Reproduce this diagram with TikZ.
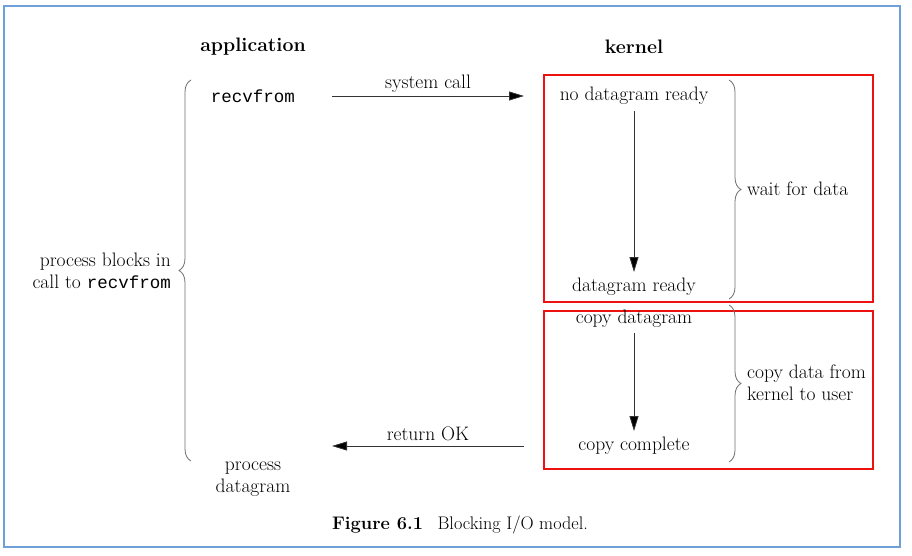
\documentclass[tikz,border=0pt]{standalone}
\usepackage{fontspec}
\setmonofont{Liberation Mono}
\usetikzlibrary{arrows.meta,decorations.pathreplacing}
\newcommand\txtsize{\fontsize{19.5}{22}\selectfont}
\newcommand\capsize{\fontsize{18.2}{22}\selectfont}
\newcommand\monosize{\fontsize{17.5}{22}\selectfont}
\definecolor{frameblue}{HTML}{6FA0D8}
\definecolor{boxred}{HTML}{EE1111}
\definecolor{bracegray}{HTML}{707070}
\definecolor{inkgray}{HTML}{333333}
\begin{document}
\begin{tikzpicture}[x=1pt,y=-1pt,
  every node/.style={font=\txtsize,text=black,inner sep=2pt},
  hdr/.style={font=\txtsize\bfseries},
  mono/.style={font=\monosize\ttfamily},
  redbox/.style={draw=boxred,line width=2pt,inner sep=0pt,anchor=north west},
  arr/.style={draw=inkgray,line width=0.8pt,-{Triangle[length=15pt,width=9pt,fill=black]}},
  bracepath/.style={draw=bracegray,line width=0.8pt,decorate,decoration={brace,amplitude=12pt,aspect=0.5}},
]
\useasboundingbox (0,0) rectangle (912,556);
\fill[white] (0,0) rectangle (912,556);
\draw[frameblue,line width=1.3pt] (4,6) rectangle (900,547);

% headers
\node[hdr] (app) at (253,47) {application};
\node[hdr] (kern) at (634,47) {kernel};

% red boxes
\node[redbox,minimum width=329pt,minimum height=227pt] (box1) at (543,74) {};
\node[redbox,minimum width=329pt,minimum height=158pt] (box2) at (543,310) {};

% application side
\node[mono] (recv) at (253,96) {recvfrom};
\node[align=center] (pd) at (253,479) {process\\datagram};
\node[align=right,anchor=east] (pb) at (173,271) {process blocks in\\call to {\monosize\ttfamily recvfrom}};

% kernel side
\node (ndr) at (634,96) {no datagram ready};
\node (dr) at (634,287) {datagram ready};
\node (cd) at (634,319) {copy datagram};
\node (cc) at (634,446) {copy complete};
\node[anchor=west] (wfd) at (745,189) {wait for data};
\node[anchor=west,align=left] (cdk) at (745,383) {copy data from\\kernel to user};

% horizontal arrows
\coordinate (sc1) at (332,96);
\coordinate (sc2) at (524,96);
\draw[arr] (sc1) -- (sc2) node[midway,above=1pt] (sclab) {system call};
\coordinate (ok1) at (524,446);
\coordinate (ok2) at (332,446);
\draw[arr] (ok1) -- (ok2) node[midway,above=3pt] (oklab) {return OK};

% vertical arrows
\draw[arr,shorten <=4pt,shorten >=4pt] (ndr.south) -- (dr.north);
\draw[arr,shorten <=3pt,shorten >=4pt] (cd.south) -- (cc.north);

% braces
\coordinate (lbt) at (191,80);
\coordinate (lbb) at (191,461);
\draw[bracepath] (lbb) -- (lbt);
\coordinate (rb1t) at (729,80);
\coordinate (rb1b) at (729,299);
\draw[bracepath] (rb1t) -- (rb1b);
\coordinate (rb2t) at (729,305);
\coordinate (rb2b) at (729,462);
\draw[bracepath] (rb2t) -- (rb2b);

% caption
\node[font=\capsize] (cap) at (460,525) {\textbf{Figure 6.1}\hspace{0.8em}Blocking I/O model.};
\end{tikzpicture}
\end{document}
